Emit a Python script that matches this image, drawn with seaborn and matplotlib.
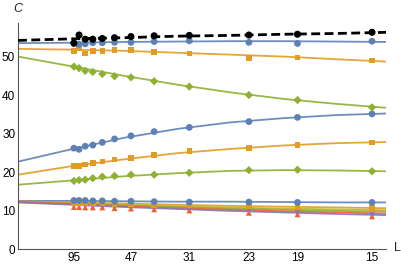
import numpy as np
import pandas as pd
import matplotlib
matplotlib.use("Agg")
import matplotlib.pyplot as plt
import seaborn as sns

# ---- data ----
L_values = [95, 87, 79, 71, 63, 55, 47, 39, 31, 23, 19, 15]
tick_L = [95, 47, 31, 23, 19, 15]

# data points (series name -> values at L_values)
pts_black = [53.5, 55.6, 54.5, 54.5, 54.7, 54.9, 55.2, 55.4, 55.5, 55.6, 55.8, 56.3]
pts_blue_top = [53.4, 53.2, 53.3, 53.6, 53.6, 53.7, 53.7, 53.9, 54.1, 53.7, 53.4, 54.0]
pts_orange_top = [51.5, 52.1, 50.8, 51.5, 51.5, 51.7, 51.7, 51.2, 50.8, 49.7, 49.8, 49.0]
pts_green_top = [47.4, 47.0, 46.3, 46.0, 45.5, 44.9, 44.6, 43.6, 42.2, 40.0, 38.7, 36.8]
pts_blue_low = [26.2, 25.9, 26.7, 27.0, 27.7, 28.6, 29.4, 30.5, 31.6, 33.1, 34.2, 35.1]
pts_orange_low = [21.6, 21.5, 22.0, 22.4, 22.7, 23.3, 23.6, 24.4, 25.4, 26.2, 27.0, 27.7]
pts_green_low = [17.7, 17.9, 18.0, 18.4, 18.8, 19.0, 19.3, 19.3, 19.8, 20.5, 20.6, 20.2]
pts_blue_bot = [12.6, 12.6, 12.6, 12.5, 12.5, 12.4, 12.4, 12.3, 12.2, 12.2, 12.1, 12.1]
pts_orange_bot = [12.0, 12.0, 11.9, 11.9, 11.8, 11.7, 11.6, 11.5, 11.3, 11.0, 10.9, 10.6]
pts_purple_bot = [11.2, 11.2, 11.1, 11.1, 11.0, 10.9, 10.8, 10.6, 10.3, 9.7, 9.3, 8.8]
pts_red_bot = [10.9, 10.9, 10.8, 10.8, 10.8, 10.6, 10.5, 10.3, 10.0, 9.4, 9.0, 8.5]

# fitted curves sampled at 1/L positions
curve_x = [0.0, 0.01, 0.02, 0.03, 0.04, 0.05, 0.06, 0.0693]
fit_black = [54.2, 54.6, 54.9, 55.3, 55.5, 55.8, 56.0, 56.3]
fit_blue_top = [53.5, 53.6, 53.8, 53.9, 54.0, 54.0, 53.9, 53.8]
fit_orange_top = [52.0, 51.8, 51.5, 51.0, 50.5, 50.0, 49.3, 48.7]
fit_green_top = [50.0, 47.5, 45.0, 42.7, 40.7, 39.0, 37.7, 36.7]
fit_blue_low = [22.7, 25.9, 28.9, 31.2, 32.9, 34.0, 34.8, 35.2]
fit_orange_low = [19.3, 21.5, 23.3, 24.9, 26.0, 26.9, 27.5, 27.8]
fit_green_low = [16.7, 17.8, 18.9, 19.7, 20.3, 20.5, 20.4, 20.2]
fit_blue_bot = [12.5, 12.5, 12.4, 12.3, 12.3, 12.2, 12.1, 12.1]
fit_orange_bot = [12.4, 12.1, 11.8, 11.5, 11.2, 11.0, 10.8, 10.6]
fit_yellow_bot = [12.3, 11.9, 11.5, 11.1, 10.8, 10.5, 10.3, 10.1]
fit_green_bot = [12.3, 11.8, 11.3, 10.9, 10.5, 10.2, 9.9, 9.7]
fit_red_bot = [12.2, 11.7, 11.1, 10.6, 10.2, 9.8, 9.5, 9.2]
fit_purple_bot = [12.1, 11.5, 10.9, 10.4, 9.9, 9.5, 9.1, 8.8]

# ---- styles ----
BLUE, ORANGE, GREEN = "#5E81B5", "#E19C24", "#8FB032"
RED, PURPLE, YELLOW = "#EB6235", "#8778B3", "#C8B52E"

sns.set_style("white")
plt.rcParams['font.family'] = ['Liberation Sans', 'DejaVu Sans']

fig = plt.figure(figsize=(4.01, 2.68), dpi=100)
ax = fig.add_axes([18 / 401, 19 / 268, (386 - 18) / 401, (249 - 22.7) / 268])

inv_L = [1.0 / v for v in L_values]

fits = [
    (fit_blue_bot, BLUE), (fit_orange_bot, ORANGE), (fit_yellow_bot, YELLOW),
    (fit_green_bot, GREEN), (fit_red_bot, RED), (fit_purple_bot, PURPLE),
    (fit_green_low, GREEN), (fit_orange_low, ORANGE), (fit_blue_low, BLUE),
    (fit_green_top, GREEN), (fit_orange_top, ORANGE), (fit_blue_top, BLUE),
]
for vals, col in fits:
    df = pd.DataFrame({"x": curve_x, "y": vals})
    sns.lineplot(data=df, x="x", y="y", ax=ax, color=col, lw=1.3,
                 alpha=0.9, estimator=None, sort=False, zorder=2)

points = [
    (pts_purple_bot, PURPLE, "v", 18), (pts_red_bot, RED, "^", 18),
    (pts_orange_bot, ORANGE, "s", 16), (pts_blue_bot, BLUE, "o", 24),
    (pts_green_low, GREEN, "D", 18), (pts_orange_low, ORANGE, "s", 16),
    (pts_blue_low, BLUE, "o", 24),
    (pts_green_top, GREEN, "D", 18), (pts_orange_top, ORANGE, "s", 16),
    (pts_blue_top, BLUE, "o", 24),
]
for vals, col, mk, s in points:
    df = pd.DataFrame({"x": inv_L, "y": vals})
    sns.scatterplot(data=df, x="x", y="y", ax=ax, color=col, marker=mk, s=s,
                    edgecolor="none", zorder=3)

df = pd.DataFrame({"x": curve_x, "y": fit_black})
sns.lineplot(data=df, x="x", y="y", ax=ax, color="black", lw=2.0,
             estimator=None, sort=False, zorder=4, dashes=False)
ax.lines[-1].set_dashes([3.2, 1.6])
df = pd.DataFrame({"x": inv_L, "y": pts_black})
sns.scatterplot(data=df, x="x", y="y", ax=ax, color="black", marker="o", s=26,
                edgecolor="none", zorder=5)

ax.set_xlim(0, 0.0693)
ax.set_ylim(0, 58.8)

ax.set_xticks([1.0 / v for v in tick_L])
ax.set_xticklabels([str(v) for v in tick_L])
ax.set_yticks([0, 10, 20, 30, 40, 50])
ax.set_yticks(np.arange(0, 59, 2), minor=True)
ax.tick_params(axis='both', which='both', direction='in', colors='#555555',
               labelcolor='black', labelsize=8.5, width=0.7)
ax.tick_params(axis='both', which='major', length=4, pad=2)
ax.tick_params(axis='y', which='minor', length=2.2)
ax.tick_params(axis='x', which='minor', length=0)

for side in ["top", "right"]:
    ax.spines[side].set_visible(False)
for side in ["left", "bottom"]:
    ax.spines[side].set_color("#555555")
    ax.spines[side].set_linewidth(0.8)

ax.set_xlabel("")
ax.set_ylabel("")
fig.text(18 / 401, 1 - 9 / 268, "C", fontsize=9, style="italic",
         ha="center", va="center")
fig.text(397 / 401, 1 - 248 / 268, "L", fontsize=9, ha="center", va="center")

fig.savefig("out.png", dpi=100)
